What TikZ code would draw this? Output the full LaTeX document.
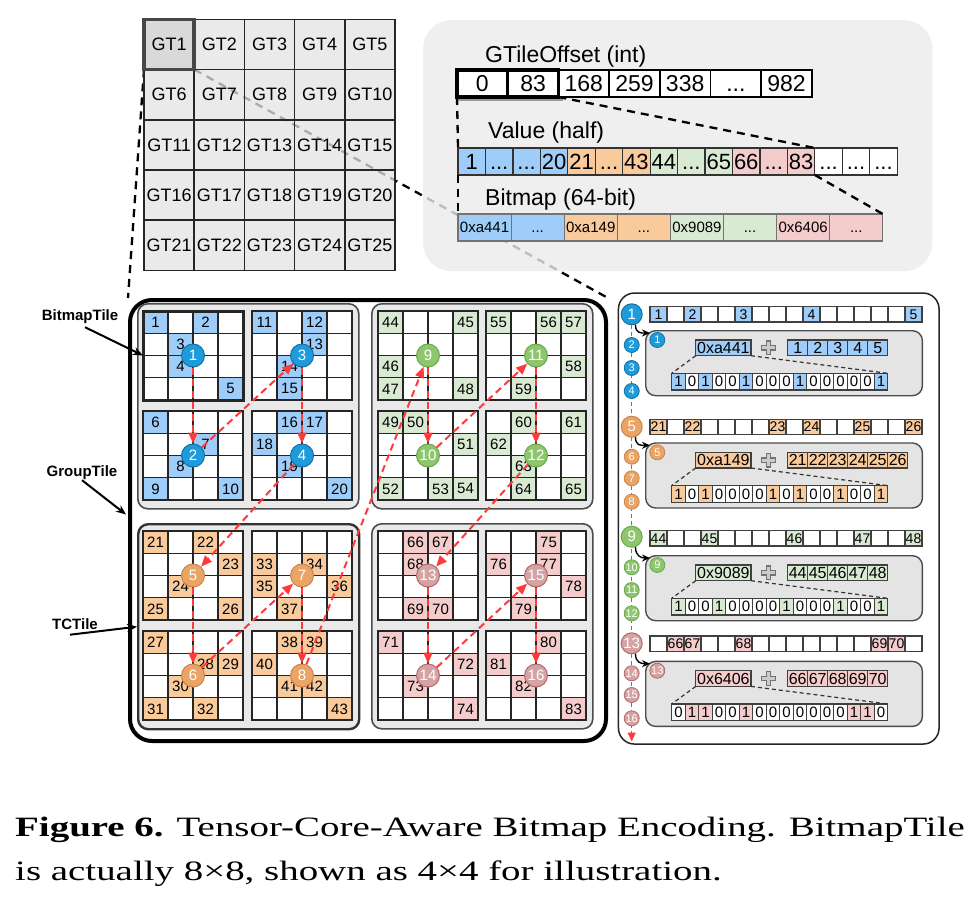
\documentclass[tikz,border=0pt]{standalone}
\usepackage{graphicx}
\usepackage{fontspec}
\setmainfont{Liberation Sans}
\newfontfamily\capfont{Liberation Serif}
\usetikzlibrary{arrows.meta,calc}
\pgfdeclarelayer{bg}
\pgfsetlayers{bg,main}
\definecolor{cblue}{HTML}{9FCDF9}
\definecolor{corange}{HTML}{F9CB9C}
\definecolor{cgreen}{HTML}{D9EAD3}
\definecolor{cpink}{HTML}{F4CCCC}
\definecolor{kblue}{HTML}{1E9BDC}
\definecolor{kbluedk}{HTML}{15709F}
\definecolor{korange}{HTML}{E9A466}
\definecolor{korangedk}{HTML}{C9864C}
\definecolor{kgreen}{HTML}{8DC66C}
\definecolor{kgreendk}{HTML}{6AA84F}
\definecolor{kpink}{HTML}{D5A3A3}
\definecolor{kpinkdk}{HTML}{B36A6A}
\definecolor{panelgray}{HTML}{EBEBEB}
\definecolor{tilegray}{HTML}{E9E9E9}
\definecolor{innergray}{HTML}{E4E4E4}
\definecolor{gtgray}{HTML}{E4E4E4}
\definecolor{arrred}{HTML}{FF3A3A}
\newcommand{\ddd}{\vphantom{0}...}
\tikzset{
  fs/.style={font=\fontsize{#1}{#1}\selectfont},
  gtcell/.style={draw=black!85,line width=1.6pt,fill=gtgray,fill opacity=0.75,text opacity=1,minimum width=50.2pt,minimum height=50.2pt,anchor=north west,inner sep=0pt,outer sep=0pt,fs=18},
  offcell/.style={draw=black,line width=1.8pt,fill=white,minimum width=50.7pt,minimum height=27pt,anchor=north west,inner sep=0pt,outer sep=0pt,fs=23},
  valcell/.style={draw=black!80,line width=1.2pt,fill=white,minimum width=27.45pt,minimum height=27pt,anchor=north west,inner sep=0pt,outer sep=0pt,fs=22},
  bmcell/.style={draw=black!55,line width=1.2pt,minimum width=53.1pt,minimum height=27pt,anchor=north west,inner sep=0pt,outer sep=0pt,fs=15},
  panel/.style={fill=panelgray,fill opacity=0.8,draw=none,rounded corners=28pt,anchor=north west,inner sep=0pt},
  lbl/.style={anchor=west,inner sep=0pt,fs=23},
  blkdash/.style={draw=black,line width=2.3pt,dash pattern=on 8pt off 6pt},
  outerbox/.style={draw=black,line width=4pt,rounded corners=22pt,anchor=north west,inner sep=0pt},
  grpbox/.style={draw=black!70,line width=1.6pt,fill=tilegray,rounded corners=10pt,anchor=north west,inner sep=0pt,minimum width=221pt,minimum height=205pt},
  tcell/.style={draw=black!85,line width=1.2pt,fill=white,minimum width=25pt,minimum height=22.25pt,anchor=north west,inner sep=0pt,outer sep=0pt,fs=15},
  tilebox/.style={draw=black!85,line width=1.6pt,anchor=north west,inner sep=0pt,outer sep=0pt,minimum width=100pt,minimum height=89pt},
  circ/.style 2 args={circle,fill=#1,draw=#2,line width=1pt,text=white,inner sep=0pt,minimum size=23pt,fs=15},
  redarr/.style={draw=arrred,line width=2pt,dash pattern=on 7pt off 4.5pt,-{Triangle[length=11pt,width=9pt]}},
  sidelbl/.style={font=\fontsize{15}{15}\selectfont\bfseries,inner sep=0pt},
  sidearr/.style={draw=black,line width=2pt,-{Stealth[length=10pt,width=8pt]}},
  rpanel/.style={draw=black!85,line width=1.5pt,rounded corners=16pt,anchor=north west,inner sep=0pt,fill=white},
  rcell/.style={draw=black!75,line width=1.1pt,fill=white,minimum width=17pt,minimum height=15.5pt,anchor=north west,inner sep=0pt,outer sep=0pt,fs=14},
  ibox/.style={draw=black!70,line width=1.4pt,fill=innergray,rounded corners=10pt,anchor=north west,inner sep=0pt,minimum width=276.7pt,minimum height=65pt},
  hexcell/.style={draw=black!75,line width=1.2pt,minimum width=55.3pt,minimum height=15.7pt,anchor=north west,inner sep=0pt,outer sep=0pt,fs=16},
  vcell/.style={draw=black!75,line width=1.2pt,minimum width=20pt,minimum height=15.7pt,anchor=north west,inner sep=0pt,outer sep=0pt,fs=16},
  bitcell/.style={draw=black!75,line width=1.1pt,minimum width=13.5pt,minimum height=16.7pt,anchor=north west,inner sep=0pt,outer sep=0pt,fs=15},
  bigc/.style 2 args={circle,fill=#1,draw=#2,line width=1pt,text=white,inner sep=0pt,minimum size=21pt,fs=15},
  smallc/.style 2 args={circle,fill=#1,draw=#2,line width=0.8pt,text=white,inner sep=0pt,minimum size=15pt,fs=11},
  thindash/.style={draw=black!80,line width=1.2pt,dash pattern=on 4pt off 3pt},
  redthin/.style={draw=arrred,line width=1.3pt,dash pattern=on 4pt off 3pt,-{Triangle[length=9pt,width=8pt]}},
  hookarr/.style={draw=black,line width=1.4pt,-{Stealth[length=8pt,width=7pt]}},
  plusout/.style={draw=black!55,line width=5.5pt},
  plusin/.style={draw=black!20,line width=2.8pt},
}
\newcommand{\bmtile}[5]{%
  \foreach \r in {0,...,3}{\foreach \c in {0,...,3}{%
    \node[tcell] (#1-\r-\c) at ({#2+25*\c},{#3+22.25*\r}) {};}}
  \foreach \r/\c/\l in {#5}{%
    \node[tcell,fill=#4] (#1-v\r\c) at ({#2+25*\c},{#3+22.25*\r}) {\l};}
  \node[tilebox] (#1) at (#2,#3) {};
}
\newcommand{\toprow}[4]{%
  \foreach \i in {0,...,15}{\node[rcell] (#1-\i) at ({650+17*\i},#2) {};}
  \foreach \i/\l in {#4}{\node[rcell,fill=#3] (#1-v\i) at ({650+17*\i},#2) {\l};}
}
\newcommand{\encbox}[9]{%
  \node[ibox] (#1) at (645,#2) {};
  \node[smallc={#4}{#5}] (#1-c) at (657.3,{#2+10}) {#6};
  \node[hexcell,fill=#3] (#1-hex) at (695.7,{#2+10}) {#7};
  \coordinate (#1-plus) at (768.3,{#2+17.8});
  \draw[plusout] ([xshift=-7.5pt]#1-plus) -- ([xshift=7.5pt]#1-plus) ([yshift=-7.5pt]#1-plus) -- ([yshift=7.5pt]#1-plus);
  \draw[plusin] ([xshift=-6.2pt]#1-plus) -- ([xshift=6.2pt]#1-plus) ([yshift=-6.2pt]#1-plus) -- ([yshift=6.2pt]#1-plus);
  \foreach \l [count=\i from 0] in {#8}{\node[vcell,fill=#3] (#1-v\i) at ({787.7+20*\i},{#2+10}) {\l};}
  \foreach \b [count=\i from 0] in {#9}{%
    \ifnum\b=1 \def\bfill{#3}\else\def\bfill{white}\fi
    \node[bitcell,fill=\bfill] (#1-b\i) at ({671.7+13.5*\i},{#2+43.3}) {\b};}
  \draw[thindash] (#1-hex.south west) -- (#1-b0.north west);
  \draw[thindash] (#1-hex.south east) -- (#1-b15.north east);
}
\begin{document}
\begin{tikzpicture}[x=1pt,y=-1pt]
\begin{pgfonlayer}{bg}
\fill[white] (0,0) rectangle (976,900);
\end{pgfonlayer}
\useasboundingbox (0,0) rectangle (976,900);

% ---- GT grid
\foreach \r in {0,...,4}{\foreach \c in {0,...,4}{%
  \pgfmathtruncatemacro{\k}{\r*5+\c+1}
  \node[gtcell] (gt\k) at ({144+50.2*\c},{19.3+50.2*\r}) {GT\k};}}
\draw[line width=3.5pt,draw=black!72,fill=black,fill opacity=0.07] (gt1.north west) rectangle (gt1.south east);

% ---- top right panel
\node[panel,minimum width=509pt,minimum height=251pt] (tpanel) at (423,20) {};
\node[lbl] (lOff) at (485,57) {GTileOffset (int)};
\node[lbl] (lVal) at (488,133) {Value (half)};
\node[lbl] (lBm) at (485,200) {Bitmap (64-bit)};
\foreach \l [count=\i from 0] in {0,83,168,259,338,\ddd,982}{\node[offcell] (off\i) at ({457+50.7*\i},70) {\l};}
\fill[black!40] (off0.south west) rectangle ($(off1.south east)+(5,4)$);
\foreach \i in {0,1}{\draw[line width=3.5pt] (off\i.north west) rectangle (off\i.south east);}
\foreach \l/\cc [count=\i from 0] in {1/cblue,\ddd/cblue,\ddd/cblue,20/cblue,21/corange,\ddd/corange,43/corange,44/cgreen,\ddd/cgreen,65/cgreen,66/cpink,\ddd/cpink,83/cpink,\ddd/white,\ddd/white,\ddd/white}{\node[valcell,fill=\cc] (val\i) at ({458+27.45*\i},148) {\l};}
\foreach \l/\cc [count=\i from 0] in {0xa441/cblue,\ddd/cblue,0xa149/corange,\ddd/corange,0x9089/cgreen,\ddd/cgreen,0x6406/cpink,\ddd/cpink}{\node[bmcell,fill=\cc] (bm\i) at ({458+53.1*\i},214) {\l};}
\draw[blkdash] (off0.south west) -- (val0.north west);
\draw[blkdash] (off1.south east) -- (val12.north east);
\draw[blkdash] (val0.south west) -- (bm0.north west);
\draw[blkdash] (val12.south east) -- (bm7.north east);

% ---- group tile
\node[outerbox,minimum width=476pt,minimum height=441pt] (gtile) at (128,298) {};
\node[grpbox] (gB) at (137,303) {};
\node[grpbox] (gG) at (371,303) {};
\node[grpbox,line width=2.4pt,draw=black!80] (gO) at (137,523) {};
\node[grpbox] (gP) at (371,523) {};

\bmtile{tA}{143}{311}{cblue}{0/0/1,0/2/2,1/1/3,2/1/4,3/3/5}
\bmtile{tB}{252}{311}{cblue}{0/0/11,0/2/12,1/2/13,2/1/14,3/1/15}
\bmtile{tC}{143}{411}{cblue}{0/0/6,1/2/7,2/1/8,3/0/9,3/3/10}
\bmtile{tD}{252}{411}{cblue}{0/1/16,0/2/17,1/0/18,2/1/19,3/3/20}
\bmtile{tE}{378}{311}{cgreen}{0/0/44,0/3/45,2/0/46,3/0/47,3/3/48}
\bmtile{tF}{486}{311}{cgreen}{0/0/55,0/2/56,0/3/57,2/3/58,3/1/59}
\bmtile{tG}{378}{411}{cgreen}{0/0/49,0/1/50,1/3/51,3/0/52,3/2/53,3/3/54}
\bmtile{tH}{486}{411}{cgreen}{0/1/60,0/3/61,1/0/62,2/1/63,3/1/64,3/3/65}
\bmtile{tI}{143}{531}{corange}{0/0/21,0/2/22,1/3/23,2/1/24,3/0/25,3/3/26}
\bmtile{tJ}{252}{531}{corange}{1/0/33,1/2/34,2/0/35,2/3/36,3/1/37}
\bmtile{tK}{143}{631}{corange}{0/0/27,1/2/28,1/3/29,2/1/30,3/0/31,3/2/32}
\bmtile{tL}{252}{631}{corange}{0/1/38,0/2/39,1/0/40,2/1/41,2/2/42,3/3/43}
\bmtile{tM}{378}{531}{cpink}{0/1/66,0/2/67,1/1/68,3/1/69,3/2/70}
\bmtile{tN}{486}{531}{cpink}{0/2/75,1/0/76,1/2/77,2/3/78,3/1/79}
\bmtile{tO}{378}{631}{cpink}{0/0/71,1/3/72,2/1/73,3/3/74}
\bmtile{tP}{486}{631}{cpink}{0/2/80,1/0/81,2/1/82,3/3/83}
\draw[line width=3pt,black!85] (tA.north west) rectangle (tA.south east);

\node[circ={kblue}{kbluedk}] (c1) at (tA.center) {1};
\node[circ={kblue}{kbluedk}] (c2) at (tC.center) {2};
\node[circ={kblue}{kbluedk}] (c3) at (tB.center) {3};
\node[circ={kblue}{kbluedk}] (c4) at (tD.center) {4};
\node[circ={korange}{korangedk}] (c5) at (tI.center) {5};
\node[circ={korange}{korangedk}] (c6) at (tK.center) {6};
\node[circ={korange}{korangedk}] (c7) at (tJ.center) {7};
\node[circ={korange}{korangedk}] (c8) at (tL.center) {8};
\node[circ={kgreen}{kgreendk}] (c9) at (tE.center) {9};
\node[circ={kgreen}{kgreendk}] (c10) at (tG.center) {10};
\node[circ={kgreen}{kgreendk}] (c11) at (tF.center) {11};
\node[circ={kgreen}{kgreendk}] (c12) at (tH.center) {12};
\node[circ={kpink}{kpinkdk}] (c13) at (tM.center) {13};
\node[circ={kpink}{kpinkdk}] (c14) at (tO.center) {14};
\node[circ={kpink}{kpinkdk}] (c15) at (tN.center) {15};
\node[circ={kpink}{kpinkdk}] (c16) at (tP.center) {16};
\foreach \a in {1,...,15}{\pgfmathtruncatemacro{\b}{\a+1}\draw[redarr] (c\a) -- (c\b);}

% ---- side labels
\node[sidelbl] (lbBT) at (80,317) {BitmapTile};
\node[sidelbl] (lbGT) at (82,473) {GroupTile};
\node[sidelbl] (lbTC) at (75,624) {TCTile};
\draw[sidearr] ($(lbBT.south)+(5,3)$) -- (tA.west);
\draw[sidearr] (lbGT.south) -- ($(gtile.west)+(-2,-6)$);
\draw[sidearr] ($(lbTC.south)+(-5,5)$) -- (gO.west);

% ---- connectors from GT1 (under semi-transparent fills)
\begin{pgfonlayer}{bg}
\draw[blkdash] (gt1.south west) -- (gtile.north west);
\draw[blkdash] (gt1.south east) -- (gtile.north east);
\end{pgfonlayer}

% ---- right panel
\node[rpanel,minimum width=320.6pt,minimum height=451pt] (rp) at (617.7,292.3) {};
\coordinate (rend) at (631.7,741.5);
\node[bigc={kblue}{kbluedk}] (r1) at (631.7,314.3) {1};
\draw[redthin] (r1) -- (rend);
\node[smallc={kblue}{kbluedk}] (r2) at (631.7,345) {2};
\node[smallc={kblue}{kbluedk}] (r3) at (631.7,368) {3};
\node[smallc={kblue}{kbluedk}] (r4) at (631.7,391) {4};
\node[bigc={korange}{korangedk}] (r5) at (631.7,426.7) {5};
\node[smallc={korange}{korangedk}] (r6) at (631.7,456.7) {6};
\node[smallc={korange}{korangedk}] (r7) at (631.7,478.3) {7};
\node[smallc={korange}{korangedk}] (r8) at (631.7,501.7) {8};
\node[bigc={kgreen}{kgreendk}] (r9) at (631.7,536.7) {9};
\node[smallc={kgreen}{kgreendk}] (r10) at (631.7,567.3) {10};
\node[smallc={kgreen}{kgreendk}] (r11) at (631.7,590) {11};
\node[smallc={kgreen}{kgreendk}] (r12) at (631.7,613.3) {12};
\node[bigc={kpink}{kpinkdk}] (r13) at (631.7,643.3) {13};
\node[smallc={kpink}{kpinkdk}] (r14) at (631.7,673.3) {14};
\node[smallc={kpink}{kpinkdk}] (r15) at (631.7,695) {15};
\node[smallc={kpink}{kpinkdk}] (r16) at (631.7,718.3) {16};

\toprow{rowB}{306.5}{cblue}{0/1,2/2,5/3,9/4,15/5}
\toprow{rowO}{419.3}{corange}{0/21,2/22,7/23,9/24,12/25,15/26}
\toprow{rowG}{530.5}{cgreen}{0/44,3/45,8/46,12/47,15/48}
\toprow{rowP}{636}{cpink}{1/66,2/67,5/68,13/69,14/70}

\encbox{ebB}{330}{cblue}{kblue}{kbluedk}{1}{0xa441}{1,2,3,4,5}{1,0,1,0,0,1,0,0,0,1,0,0,0,0,0,1}
\encbox{ebO}{442.3}{corange}{korange}{korangedk}{5}{0xa149}{21,22,23,24,25,26}{1,0,1,0,0,0,0,1,0,1,0,0,1,0,0,1}
\encbox{ebG}{555}{cgreen}{kgreen}{kgreendk}{9}{0x9089}{44,45,46,47,48}{1,0,0,1,0,0,0,0,1,0,0,0,1,0,0,1}
\encbox{ebP}{660.7}{cpink}{kpink}{kpinkdk}{13}{0x6406}{66,67,68,69,70}{0,1,1,0,0,1,0,0,0,0,0,0,0,1,1,0}

\draw[hookarr] (r1.-70) .. controls +(0,9) and +(-9,0) .. ([xshift=5pt,yshift=-3pt]ebB.north west);
\draw[hookarr] (r5.-70) .. controls +(0,9) and +(-9,0) .. ([xshift=5pt,yshift=-3pt]ebO.north west);
\draw[hookarr] (r9.-70) .. controls +(0,9) and +(-9,0) .. ([xshift=5pt,yshift=-3pt]ebG.north west);
\draw[hookarr] (r13.-70) .. controls +(0,9) and +(-9,0) .. ([xshift=5pt,yshift=-3pt]ebP.north west);

% ---- caption
\node[anchor=base west,inner sep=0pt] (cap1) at (15,836) {\capfont\fontsize{28}{28}\selectfont\scalebox{1.39}[1]{\textbf{Figure 6.} Tensor-Core-Aware Bitmap Encoding. BitmapTile}};
\node[anchor=base west,inner sep=0pt] (cap2) at (15,880) {\capfont\fontsize{28}{28}\selectfont\scalebox{1.39}[1]{is actually 8×8, shown as 4×4 for illustration.}};
\end{tikzpicture}
\end{document}
